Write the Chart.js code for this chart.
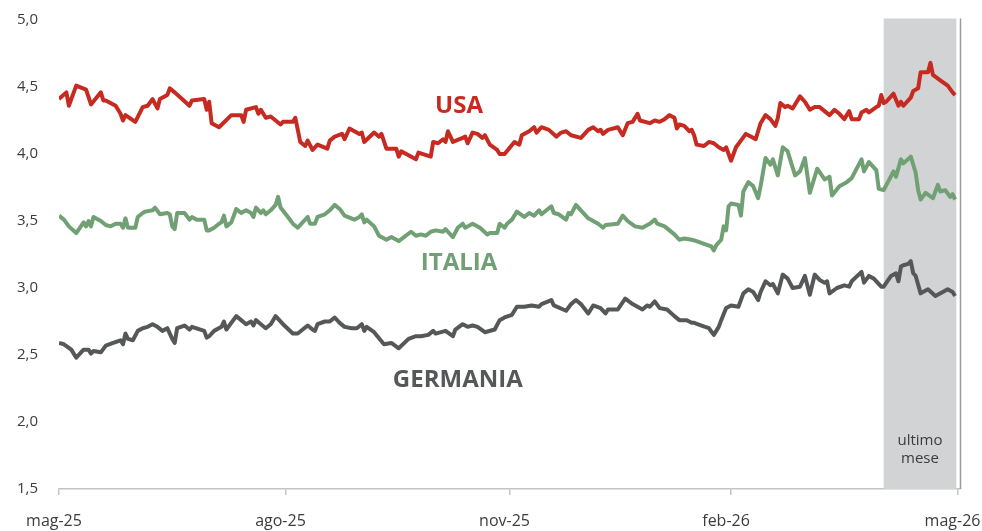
<!DOCTYPE html>
<html lang="it">
<head>
<meta charset="utf-8">
<title>Rendimenti titoli di Stato a 10 anni</title>
<script src="https://cdn.jsdelivr.net/npm/chart.js@4.4.1/dist/chart.umd.min.js"></script>
<style>
  html, body { margin: 0; padding: 0; background: #ffffff; }
  #wrap { width: 982px; height: 531px; position: relative; }
</style>
</head>
<body>
<div id="wrap"><canvas id="chart" width="982" height="531"></canvas></div>
<script>
// Days counted from 1 May 2025
const tickDays = [0, 92, 183, 273, 365];
const tickLabels = ['mag-25', 'ago-25', 'nov-25', 'feb-26', 'mag-26'];
const yTicks = [1.5, 2.0, 2.5, 3.0, 3.5, 4.0, 4.5, 5.0];

// Last month window (days)
const lastMonthStart = 335;
const lastMonthEnd = 364.5;
const lastMonthLabel = ['ultimo', 'mese'];

const seriesNames = ['USA', 'ITALIA', 'GERMANIA'];

const usaDays = [0,3,4,7,11,13,17,18,19,23,25,26,27,31,34,36,38,40,41,44,45,47,50,53,54,59,60,61,62,65,70,74,75,76,80,81,82,84,86,90,91,95,96,98,100,101,103,105,109,110,112,115,116,118,122,123,124,128,130,131,133,137,138,139,142,145,146,151,152,154,156,157,158,160,164,165,166,168,170,172,173,175,178,179,181,185,187,188,191,193,194,196,199,202,204,206,208,212,215,217,219,220,221,223,227,229,231,233,235,236,240,242,244,246,248,250,251,252,254,256,257,258,259,262,264,266,268,270,271,273,275,279,281,283,285,287,289,291,292,293,295,296,298,301,303,305,307,309,311,313,315,317,319,321,322,325,326,328,329,332,333,334,335,336,339,341,342,343,346,347,349,350,353,354,355,358,361,363,364];
const usaValues = [4.41,4.46,4.36,4.51,4.48,4.37,4.46,4.40,4.40,4.36,4.30,4.25,4.29,4.24,4.35,4.36,4.41,4.34,4.41,4.44,4.49,4.46,4.41,4.36,4.40,4.41,4.33,4.39,4.23,4.20,4.29,4.29,4.24,4.33,4.35,4.30,4.33,4.27,4.28,4.22,4.24,4.24,4.27,4.09,4.06,4.10,4.03,4.07,4.04,4.10,4.13,4.15,4.11,4.19,4.15,4.16,4.09,4.16,4.13,4.15,4.04,4.04,3.98,4.02,3.99,3.96,4.01,3.98,4.09,4.08,4.11,4.09,4.17,4.09,4.12,4.13,4.08,4.16,4.15,4.12,4.14,4.07,4.03,4.00,4.00,4.09,4.07,4.14,4.17,4.20,4.16,4.20,4.18,4.13,4.16,4.17,4.14,4.12,4.18,4.20,4.17,4.18,4.15,4.18,4.20,4.14,4.23,4.24,4.30,4.25,4.23,4.25,4.24,4.26,4.29,4.27,4.19,4.22,4.21,4.17,4.18,4.14,4.07,4.06,4.09,4.08,4.05,4.03,4.05,3.95,4.05,4.15,4.13,4.11,4.23,4.29,4.26,4.21,4.27,4.38,4.35,4.36,4.34,4.43,4.39,4.33,4.35,4.35,4.32,4.29,4.33,4.30,4.26,4.32,4.26,4.26,4.31,4.33,4.31,4.35,4.36,4.44,4.38,4.39,4.45,4.36,4.39,4.36,4.42,4.47,4.49,4.61,4.61,4.68,4.59,4.55,4.51,4.46,4.44];

const italiaDays = [0,2,4,7,10,11,12,13,14,17,19,21,23,25,26,27,28,31,32,34,35,38,39,41,44,45,46,47,48,51,53,54,56,59,60,61,63,65,66,67,68,70,72,74,76,78,79,80,82,83,84,86,88,89,90,93,95,97,101,102,104,105,108,110,112,114,116,120,122,123,124,125,128,130,133,135,138,143,145,147,149,151,153,156,157,160,162,164,165,168,171,174,175,178,179,181,182,184,186,189,191,193,195,196,200,201,203,206,207,208,210,212,215,219,221,222,227,229,231,234,237,239,240,242,243,246,250,252,254,257,259,262,265,266,267,269,270,271,272,273,276,277,278,280,282,284,285,287,289,290,292,294,296,299,301,303,305,307,308,311,313,314,317,320,322,326,327,329,332,333,335,339,340,342,343,346,348,349,350,352,355,357,358,360,362,363,364];
const italiaValues = [3.54,3.51,3.46,3.41,3.49,3.46,3.50,3.46,3.53,3.50,3.47,3.46,3.48,3.48,3.45,3.52,3.45,3.45,3.53,3.56,3.57,3.58,3.60,3.55,3.56,3.55,3.46,3.44,3.56,3.56,3.51,3.53,3.51,3.51,3.43,3.43,3.45,3.48,3.49,3.54,3.46,3.49,3.59,3.56,3.58,3.56,3.53,3.60,3.56,3.58,3.55,3.58,3.62,3.68,3.60,3.53,3.48,3.45,3.53,3.48,3.48,3.53,3.55,3.58,3.62,3.59,3.54,3.51,3.53,3.55,3.49,3.51,3.46,3.39,3.36,3.38,3.35,3.42,3.39,3.40,3.39,3.42,3.43,3.42,3.44,3.38,3.45,3.48,3.45,3.48,3.45,3.40,3.41,3.41,3.48,3.45,3.48,3.51,3.57,3.53,3.56,3.54,3.58,3.55,3.61,3.56,3.55,3.51,3.56,3.55,3.62,3.58,3.52,3.48,3.45,3.47,3.48,3.54,3.50,3.46,3.45,3.47,3.48,3.51,3.48,3.46,3.40,3.36,3.37,3.36,3.35,3.33,3.31,3.28,3.32,3.36,3.46,3.43,3.61,3.63,3.62,3.54,3.72,3.79,3.76,3.67,3.76,3.97,3.92,3.96,3.84,4.05,4.02,3.84,3.87,3.97,3.71,3.83,3.89,3.81,3.83,3.69,3.76,3.79,3.82,3.96,3.87,3.94,3.88,3.74,3.73,3.87,3.83,3.96,3.93,3.98,3.86,3.73,3.66,3.71,3.67,3.77,3.72,3.73,3.68,3.70,3.66];

const germaniaDays = [0,2,5,7,10,12,13,14,17,19,22,25,26,27,28,30,32,34,36,38,40,42,44,46,47,48,51,53,54,59,60,61,63,66,67,68,72,74,76,78,79,80,82,84,86,88,91,95,97,101,103,104,105,108,110,112,114,116,119,121,123,124,125,128,132,135,138,142,145,147,150,152,153,157,160,161,164,166,168,170,173,177,179,181,184,186,189,192,195,196,200,201,206,208,210,212,215,217,220,222,223,227,230,233,237,239,240,242,244,247,250,252,255,257,258,261,264,266,268,269,271,273,276,278,280,282,284,285,287,289,290,292,294,296,298,301,303,305,307,309,311,312,313,316,319,321,322,326,327,329,331,334,335,338,340,341,342,343,345,346,347,348,350,353,356,359,361,363,364];
const germaniaValues = [2.59,2.58,2.54,2.48,2.54,2.54,2.51,2.53,2.52,2.57,2.59,2.61,2.58,2.66,2.62,2.61,2.68,2.70,2.71,2.73,2.71,2.68,2.70,2.62,2.59,2.70,2.72,2.69,2.71,2.68,2.63,2.64,2.68,2.71,2.75,2.69,2.79,2.76,2.73,2.75,2.72,2.76,2.73,2.70,2.73,2.79,2.73,2.66,2.66,2.72,2.69,2.68,2.73,2.75,2.75,2.78,2.74,2.71,2.70,2.70,2.73,2.68,2.71,2.67,2.58,2.59,2.55,2.62,2.64,2.64,2.65,2.68,2.66,2.68,2.64,2.69,2.73,2.71,2.72,2.71,2.67,2.69,2.76,2.78,2.80,2.86,2.86,2.87,2.86,2.88,2.91,2.87,2.83,2.88,2.91,2.88,2.81,2.87,2.85,2.81,2.84,2.84,2.92,2.88,2.84,2.87,2.86,2.90,2.85,2.84,2.79,2.76,2.76,2.74,2.74,2.72,2.70,2.65,2.71,2.76,2.85,2.87,2.86,2.96,2.99,2.97,2.91,2.97,3.05,3.02,3.03,2.96,3.10,3.07,3.00,3.01,3.09,2.95,3.10,3.06,3.04,3.05,2.96,3.00,3.02,3.01,3.05,3.12,3.04,3.09,3.07,3.01,3.01,3.09,3.11,3.05,3.16,3.17,3.18,3.20,3.11,3.09,2.96,2.99,2.94,2.97,2.99,2.97,2.94];

const COLORS = {
  usa: '#c62a20',
  italia: '#70a074',
  germania: '#565759',
  axis: '#c4c4c4',
  text: '#3c3c3c',
  band: '#d2d3d5',
  edge: '#9c9c9c'
};

function pairs(days, values) {
  return days.map((d, i) => ({ x: d, y: values[i] }));
}

function lineDataset(label, days, values, color) {
  return {
    label,
    data: pairs(days, values),
    borderColor: color,
    backgroundColor: color,
    borderWidth: 4,
    pointRadius: 0,
    tension: 0,
    borderJoinStyle: 'round',
    borderCapStyle: 'butt'
  };
}

// Shaded "last month" band, right edge line and in-chart labels
const decorations = {
  id: 'decorations',
  beforeDatasetsDraw(chart) {
    const { ctx, chartArea, scales } = chart;
    const x0 = scales.x.getPixelForValue(lastMonthStart);
    const x1 = scales.x.getPixelForValue(lastMonthEnd);
    ctx.save();
    ctx.fillStyle = COLORS.band;
    ctx.fillRect(x0, chartArea.top - 1.5, x1 - x0, chartArea.bottom - chartArea.top + 1.5);
    ctx.fillStyle = COLORS.text;
    ctx.font = '15px "Open Sans", sans-serif';
    ctx.textAlign = 'center';
    ctx.textBaseline = 'middle';
    const cx = (x0 + x1) / 2;
    ctx.fillText(lastMonthLabel[0], cx, scales.y.getPixelForValue(1.862));
    ctx.fillText(lastMonthLabel[1], cx, scales.y.getPixelForValue(1.725));
    ctx.restore();
  },
  afterDatasetsDraw(chart) {
    const { ctx, chartArea, scales } = chart;
    ctx.save();
    ctx.strokeStyle = COLORS.edge;
    ctx.lineWidth = 1.5;
    ctx.beginPath();
    ctx.moveTo(chartArea.right + 0.5, chartArea.top - 1.5);
    ctx.lineTo(chartArea.right + 0.5, chartArea.bottom);
    ctx.stroke();

    const labels = [
      { text: seriesNames[0], day: 162.5, value: 4.355, color: COLORS.usa },
      { text: seriesNames[1], day: 162.5, value: 3.185, color: COLORS.italia },
      { text: seriesNames[2], day: 162, value: 2.315, color: COLORS.germania }
    ];
    ctx.font = 'bold 24px "Open Sans", sans-serif';
    ctx.textAlign = 'center';
    ctx.textBaseline = 'middle';
    labels.forEach(l => {
      ctx.fillStyle = l.color;
      ctx.fillText(l.text, scales.x.getPixelForValue(l.day), scales.y.getPixelForValue(l.value));
    });
    ctx.restore();
  }
};

new Chart(document.getElementById('chart'), {
  type: 'line',
  data: {
    datasets: [
      lineDataset(seriesNames[0], usaDays, usaValues, COLORS.usa),
      lineDataset(seriesNames[1], italiaDays, italiaValues, COLORS.italia),
      lineDataset(seriesNames[2], germaniaDays, germaniaValues, COLORS.germania)
    ]
  },
  options: {
    responsive: false,
    animation: false,
    devicePixelRatio: 1,
    layout: { padding: { top: 20, right: 22, left: 0, bottom: 0 } },
    plugins: {
      legend: { display: false },
      tooltip: { enabled: false }
    },
    scales: {
      x: {
        type: 'linear',
        min: 0,
        max: 366,
        afterBuildTicks(scale) {
          scale.ticks = tickDays.map(v => ({ value: v }));
        },
        afterFit(scale) {
          scale.height = 42;
          scale.paddingLeft = 0;
          scale.paddingRight = 0;
        },
        border: { display: true, color: COLORS.axis, width: 1.5 },
        grid: {
          display: true,
          drawOnChartArea: false,
          drawTicks: true,
          tickLength: 6,
          color: COLORS.axis,
          lineWidth: 1.5
        },
        ticks: {
          autoSkip: false,
          maxRotation: 0,
          padding: 17,
          labelOffset: -5,
          color: COLORS.text,
          font: { family: '"Open Sans", sans-serif', size: 16 },
          callback: v => tickLabels[tickDays.indexOf(v)]
        }
      },
      y: {
        min: 1.5,
        max: 5.0,
        afterBuildTicks(scale) {
          scale.ticks = yTicks.map(v => ({ value: v }));
        },
        afterFit(scale) {
          scale.width = 59;
          scale.paddingTop = 0;
          scale.paddingBottom = 0;
        },
        border: { display: false },
        grid: { display: false, drawTicks: false },
        ticks: {
          padding: 21,
          color: COLORS.text,
          font: { family: '"Open Sans", sans-serif', size: 15 },
          callback: v => v.toFixed(1).replace('.', ',')
        }
      }
    }
  },
  plugins: [decorations]
});
</script>
</body>
</html>
